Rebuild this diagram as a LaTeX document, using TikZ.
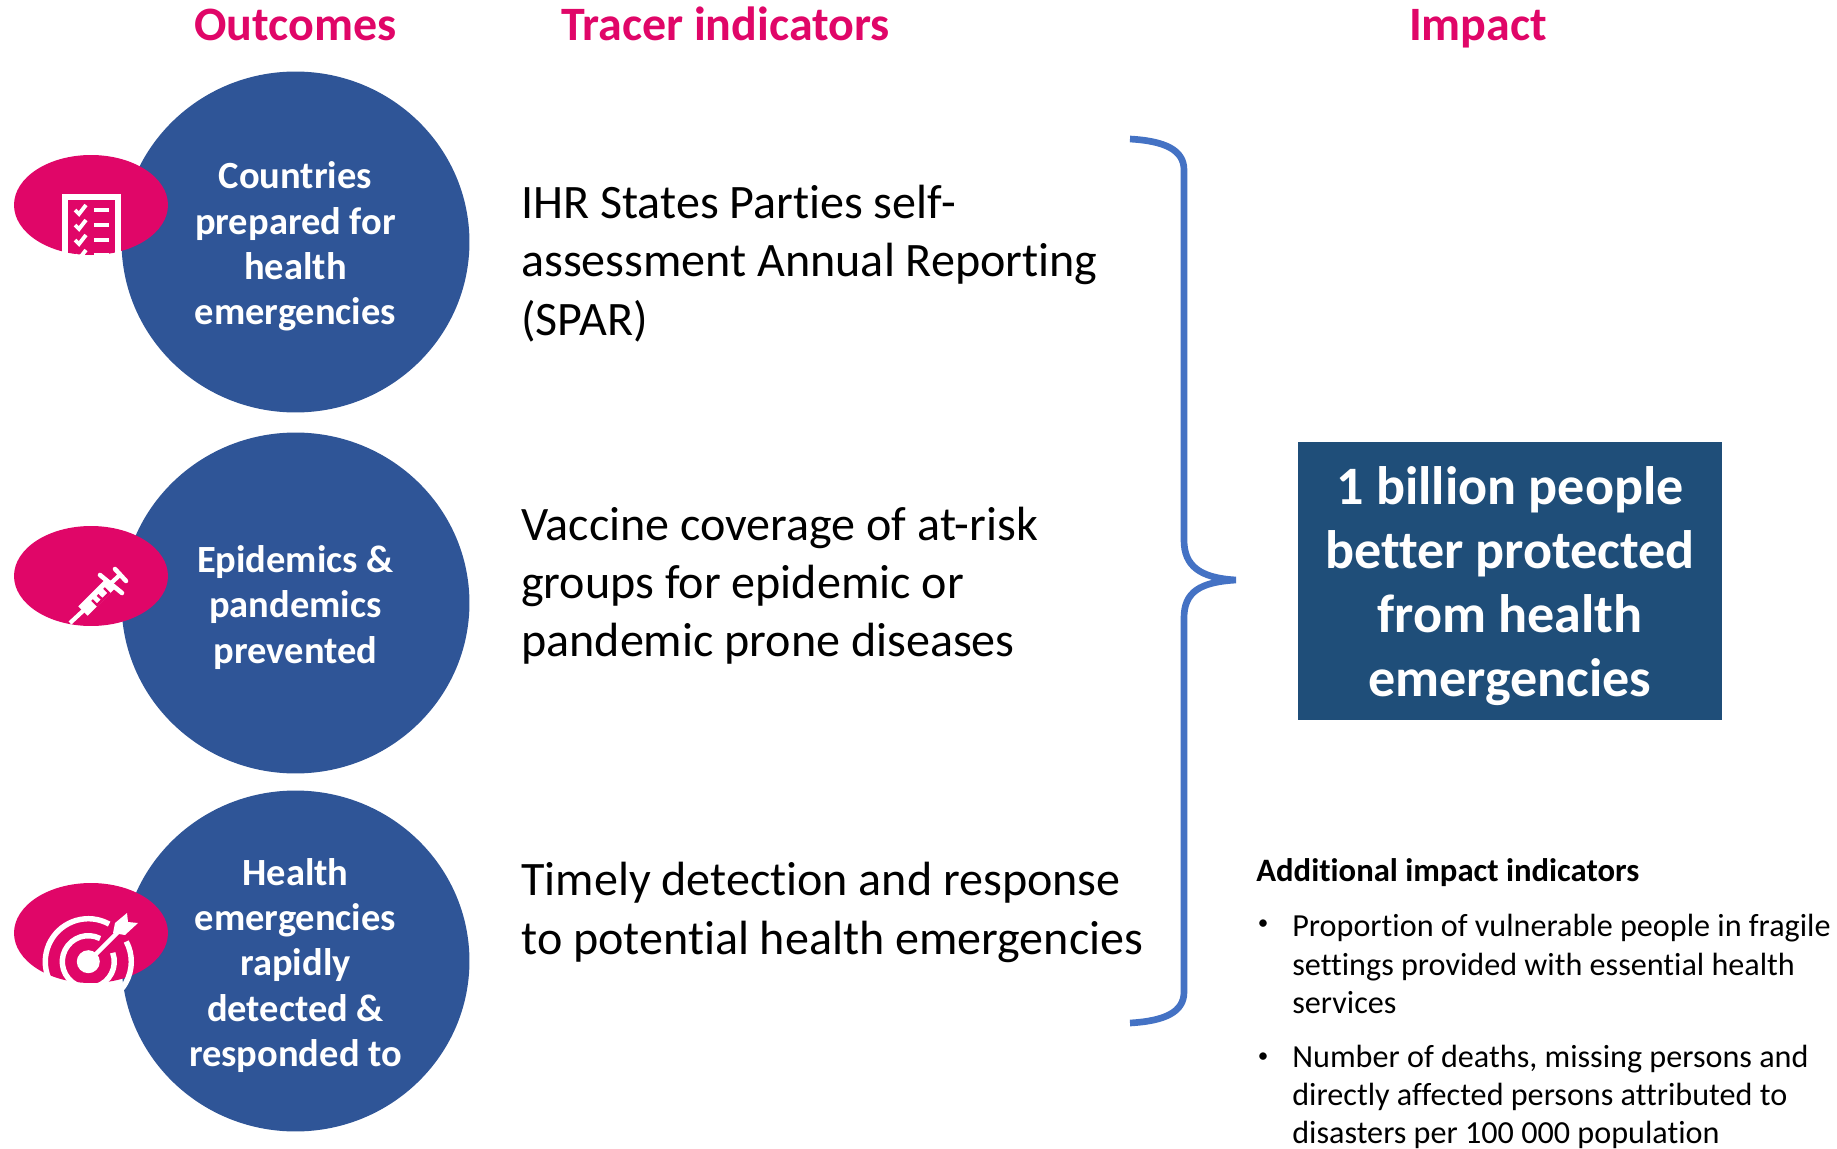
\documentclass[tikz,border=0pt]{standalone}
\usepackage{fontspec}
\setmainfont{Carlito}[Ligatures={NoCommon}]
\usetikzlibrary{shapes.geometric}
\definecolor{circblue}{HTML}{2F5597}
\definecolor{boxblue}{HTML}{1F4E79}
\definecolor{bracketblue}{HTML}{4472C4}
\definecolor{wpink}{HTML}{E00668}
\newcommand{\liftA}{\rule{0pt}{20.5pt}}
\newcommand{\liftB}{\rule{0pt}{27.8pt}}
\begin{document}
\begin{tikzpicture}[x=0.02cm,y=-0.02cm,
  heading/.style={anchor=base,text=wpink,font=\fontsize{27.3}{33}\selectfont\bfseries},
  outcome/.style={ellipse,fill=circblue,minimum width=6.96cm,minimum height=6.82cm,inner sep=0pt,text=white,align=center,
    font=\fontsize{21.9}{25.8}\selectfont\bfseries},
  badge/.style={ellipse,fill=wpink,minimum width=3.08cm,minimum height=2cm,inner sep=0pt},
  tracer/.style={anchor=west,align=left,inner sep=0pt,font=\fontsize{27.35}{33.1}\selectfont},
  small/.style={anchor=west,align=left,inner sep=0pt,font=\fontsize{18.3}{22.1}\selectfont},
  smallhead/.style={small,font=\fontsize{18.6}{22.1}\selectfont\bfseries},
  bulletmark/.style={inner sep=0pt,font=\fontsize{12}{14}\selectfont},
  ring/.style={white,line width=3.1pt}]
\useasboundingbox (0,0) rectangle (1837,1149);
%
\node[heading] (outcomes) at (295.5,40.5) {Outcomes};
\node[heading] (tracers) at (725.5,40.5) {Tracer indicators};
\node[heading] (impact) at (1478,40.5) {Impact};
%
\node[outcome] (prepared) at (295.5,242) {\liftA Countries\\prepared for\\health\\emergencies};
\node[outcome] (prevented) at (295.5,603) {\liftA Epidemics \&\\pandemics\\prevented};
\node[outcome] (detected) at (295.5,961) {\liftA Health\\emergencies\\rapidly\\detected \&\\responded to};
%
\node[badge] (badgeA) at (91,205) {};
\node[badge] (badgeB) at (91,576) {};
\node[badge] (badgeC) at (91,933) {};
%
\fill[white] (62,194) rectangle (121,262);
\begin{scope}
\clip (91,205) ellipse [x radius=77,y radius=50];
\fill[wpink] (68,200) rectangle (115,262);
\end{scope}
\foreach \y in {210,225,240,255} {
  \draw[white,line width=2.2pt] (75,\y) -- (79,\y+4) -- (86,\y-5);
  \draw[white,line width=2.2pt] (94,\y) -- (109,\y);
}
%
\draw[white,line width=2.4pt] (70,623) -- (84,610);
\draw[white,line width=7.5pt] (83,611) -- (111,583);
\draw[white,line width=2.6pt,line cap=round] (100,575) -- (122,593);
\draw[white,line width=2.4pt] (110,584) -- (121,574);
\draw[white,line width=2.6pt,line cap=round] (115,569) -- (126,581);
\draw[wpink,line width=1.4pt] (92,600) -- (97,605) -- (109,593) -- (104,588) (97.5,595) -- (103,600);
%
\coordinate (bull) at (88.3,961.7);
\draw[ring] (bull) ++(-61:43) arc[start angle=-61,delta angle=-327,radius=43];
\draw[ring] (bull) ++(-63:26) arc[start angle=-63,delta angle=-317,radius=26];
\fill[white] (bull) circle (11.5);
\draw[white,line width=2.5pt] (bull) -- (120,930);
\fill[white] (115,923) -- (127,913) -- (128,922) -- (138,923) -- (125,935) -- (113,933) -- cycle;
%
\node[tracer] (spar) at (521,263.5) {IHR States Parties self-\\assessment Annual Reporting\\(SPAR)};
\node[tracer] (vaccine) at (521,585.5) {Vaccine coverage of at-risk\\groups for epidemic or\\pandemic prone diseases};
\node[tracer] (timely) at (521,912.5) {Timely detection and response\\to potential health emergencies};
%
\coordinate (bracetop) at (1130,139);
\coordinate (bracetip) at (1236,580);
\coordinate (bracebot) at (1130,1023);
\draw[bracketblue,line width=3.8pt]
  (bracetop) .. controls (1165,141) and (1184,150) .. (1184,170)
  -- (1184,540) .. controls (1184,566) and (1200,578) .. (bracetip)
  (bracetip) .. controls (1200,582) and (1184,592) .. (1184,618)
  -- (1184,992) .. controls (1184,1012) and (1165,1021) .. (bracebot);
%
\node[fill=boxblue,text=white,minimum width=8.48cm,minimum height=5.56cm,align=center,inner sep=0pt,
  font=\fontsize{30.8}{36.4}\selectfont\bfseries] (billion) at (1510,581)
  {\liftB 1 billion people\\better protected\\from health\\emergencies};
%
\node[smallhead] (additional) at (1256,873) {Additional impact indicators};
\node[bulletmark] (bulletA) at (1263,925) {•};
\node[small] (proportion) at (1292,964) {Proportion of vulnerable people in fragile\\settings provided with essential health\\services};
\node[bulletmark] (bulletB) at (1263,1058) {•};
\node[small,font=\fontsize{18.3}{21.4}\selectfont] (deaths) at (1292,1097) {Number of deaths, missing persons and\\directly affected persons attributed to\\disasters per 100 000 population};
\end{tikzpicture}
\end{document}
